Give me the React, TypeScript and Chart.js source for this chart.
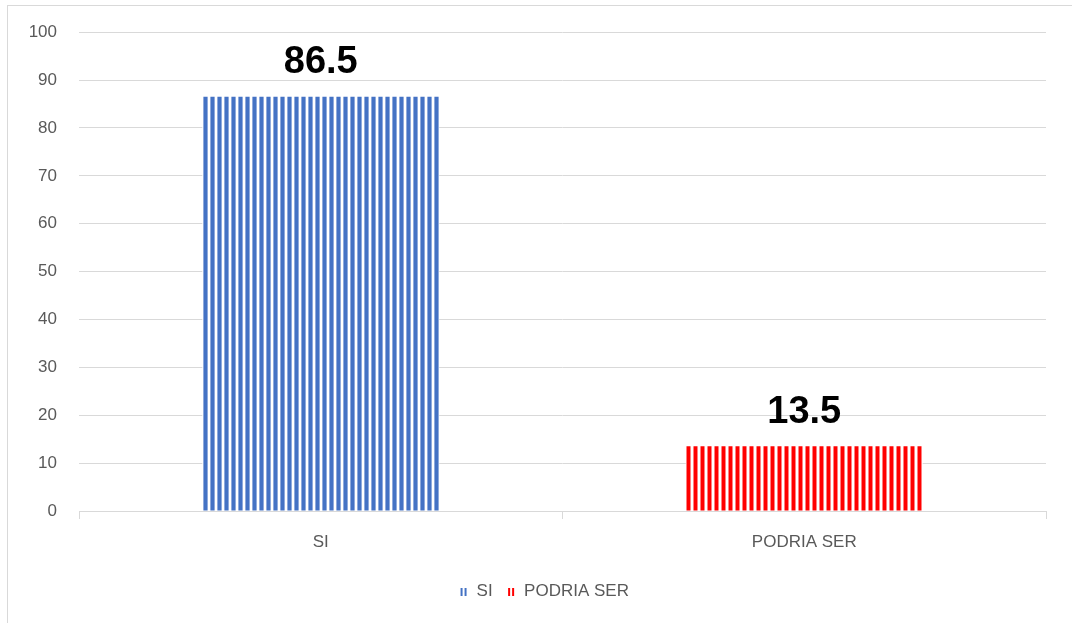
import React, { useEffect, useRef } from "react";
import { Chart, registerables } from "chart.js";

Chart.register(...registerables);

const categories = ["SI", "PODRIA SER"];
const values = [86.5, 13.5];
const colors = ["#4472C4", "#FF0000"];
const edgeColors = ["#8FAADC", "#FF8080"];
const yMax = 100;
const yStep = 10;

const FONT = "'Liberation Sans', Arial, sans-serif";

function makePattern(color: string, edge: string): CanvasPattern | string {
  const c = document.createElement("canvas");
  c.width = 7;
  c.height = 4;
  const ctx = c.getContext("2d");
  if (!ctx) return color;
  ctx.fillStyle = "#ffffff";
  ctx.fillRect(0, 0, 7, 4);
  ctx.fillStyle = edge;
  ctx.fillRect(0, 0, 1, 4);
  ctx.fillRect(4, 0, 1, 4);
  ctx.fillStyle = color;
  ctx.fillRect(1, 0, 3, 4);
  const p = ctx.createPattern(c, "repeat");
  return p || color;
}

function makeLegendIcon(color: string): HTMLCanvasElement {
  const c = document.createElement("canvas");
  c.width = 8;
  c.height = 9;
  const ctx = c.getContext("2d");
  if (ctx) {
    ctx.fillStyle = color;
    ctx.fillRect(1, 1, 2, 8);
    ctx.fillRect(5, 1, 2, 8);
  }
  return c;
}

const valueLabelPlugin = {
  id: "valueLabels",
  afterDatasetsDraw(chart: any) {
    const ctx = chart.ctx;
    const meta = chart.getDatasetMeta(0);
    ctx.save();
    ctx.font = "bold 38px " + FONT;
    ctx.fillStyle = "#000000";
    ctx.textAlign = "center";
    ctx.textBaseline = "bottom";
    meta.data.forEach((el: any, i: number) => {
      ctx.fillText(String(values[i]), el.x, el.y - 15);
    });
    ctx.restore();
  },
};

const legendShiftPlugin = {
  id: "legendShift",
  afterLayout(chart: any) {
    const lg = chart.legend;
    if (lg) {
      lg.left += 11;
      lg.right += 11;
    }
  },
};

export default function App() {
  const ref = useRef<HTMLCanvasElement | null>(null);

  useEffect(() => {
    if (!ref.current) return;
    const patterns = colors.map((c, i) => makePattern(c, edgeColors[i]));
    const icons = colors.map((c) => makeLegendIcon(c));
    const chart = new Chart(ref.current, {
      type: "bar",
      data: {
        labels: categories,
        datasets: [
          {
            data: values,
            backgroundColor: patterns as any,
            borderWidth: 0,
            barPercentage: 1,
            categoryPercentage: 0.49,
          },
        ],
      },
      options: {
        animation: false,
        responsive: false,
        maintainAspectRatio: false,
        layout: { padding: { top: 32, right: 26, bottom: 13, left: 20 } },
        plugins: {
          tooltip: { enabled: false },
          legend: {
            display: true,
            position: "bottom",
            labels: {
              usePointStyle: true,
              boxWidth: 9,
              boxHeight: 9,
              padding: 14,
              color: "#595959",
              font: { size: 17, family: FONT },
              generateLabels: () =>
                categories.map((c, i) => ({
                  text: c,
                  pointStyle: icons[i],
                  fillStyle: colors[i],
                  strokeStyle: colors[i],
                  lineWidth: 0,
                  hidden: false,
                  index: i,
                  fontColor: "#595959",
                })) as any,
            },
          },
        },
        scales: {
          x: {
            grid: {
              drawOnChartArea: false,
              drawTicks: true,
              tickLength: 8,
              color: "#d9d9d9",
              offset: true,
            },
            border: { display: true, color: "#d9d9d9" },
            ticks: {
              padding: 13,
              color: "#595959",
              font: { size: 17, family: FONT },
            },
            afterFit: (s: any) => {
              s.height = 58;
            },
          },
          y: {
            min: 0,
            max: yMax,
            grid: { color: "#d9d9d9", drawTicks: false },
            border: { display: false },
            ticks: {
              stepSize: yStep,
              padding: 22,
              color: "#595959",
              font: { size: 17, family: FONT },
            },
            afterFit: (s: any) => {
              s.width = 59;
            },
          },
        },
      },
      plugins: [valueLabelPlugin, legendShiftPlugin],
    });
    return () => chart.destroy();
  }, []);

  return (
    <div
      style={{
        position: "fixed",
        left: 0,
        top: 0,
        width: 1072,
        height: 623,
        background: "#ffffff",
        overflow: "hidden",
      }}
    >
      <div
        style={{
          position: "absolute",
          left: 7,
          top: 5,
          width: 1100,
          height: 700,
          border: "1px solid #d9d9d9",
        }}
      />
      <canvas
        ref={ref}
        width={1072}
        height={623}
        style={{ position: "absolute", left: 0, top: 0 }}
      />
    </div>
  );
}
